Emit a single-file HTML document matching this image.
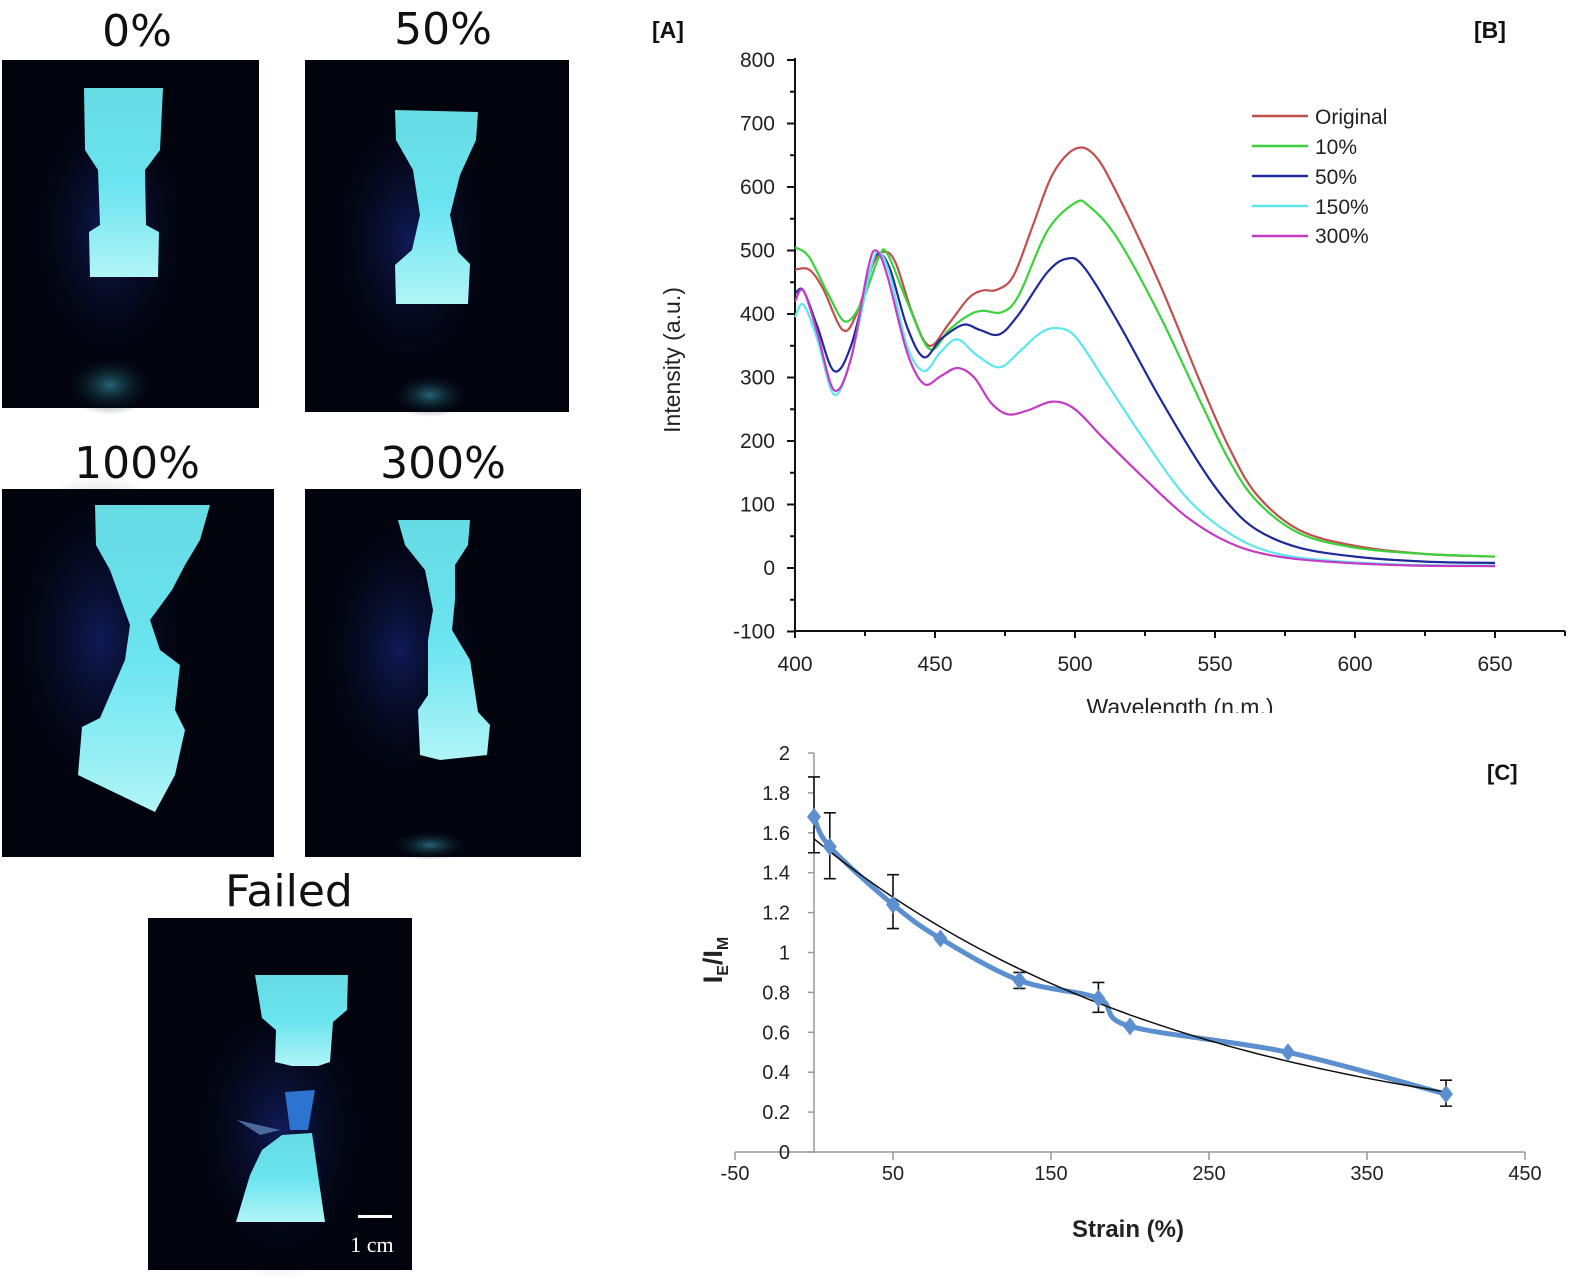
<!DOCTYPE html>
<html><head><meta charset="utf-8">
<style>
html,body{margin:0;padding:0;background:#fff;}
svg{display:block;}
</style></head>
<body>
<svg id="s" width="1575" height="1279" viewBox="0 0 1575 1279" xmlns="http://www.w3.org/2000/svg" font-family="Liberation Sans, sans-serif">
<defs>
<radialGradient id="glow" cx="0.5" cy="0.5" r="0.5">
<stop offset="0" stop-color="#1a2a8a" stop-opacity="0.6"/>
<stop offset="1" stop-color="#01030f" stop-opacity="0"/>
</radialGradient>
<linearGradient id="spec" x1="0" y1="0" x2="0" y2="1">
<stop offset="0" stop-color="#66dbe4"/>
<stop offset="0.5" stop-color="#6ae4f0"/>
<stop offset="1" stop-color="#b0f5f6"/>
</linearGradient>
<radialGradient id="bot" cx="0.5" cy="0.5" r="0.5">
<stop offset="0" stop-color="#2d7f92" stop-opacity="0.8"/>
<stop offset="1" stop-color="#01030f" stop-opacity="0"/>
</radialGradient>
</defs>

<g font-family="DejaVu Sans, Liberation Sans, sans-serif" font-size="44" fill="#111" text-anchor="middle">
<text x="137" y="46">0%</text>
<text x="443" y="44">50%</text>
<text x="137" y="478">100%</text>
<text x="443" y="478">300%</text>
<text x="289" y="906">Failed</text>
</g>

<rect x="2" y="60" width="257" height="348" fill="#02040d"/>
<ellipse cx="110" cy="230" rx="90" ry="150" fill="url(#glow)"/>
<ellipse cx="110" cy="385" rx="45" ry="30" fill="url(#bot)"/>
<path d="M84,88 L163,88 L160,150 L145,170 L146,225 L159,232 L158,277 L90,277 L89,232 L100,225 L98,170 L85,150 Z" fill="url(#spec)"/>

<rect x="305" y="60" width="264" height="352" fill="#02040d"/>
<ellipse cx="410" cy="240" rx="90" ry="150" fill="url(#glow)"/>
<ellipse cx="430" cy="395" rx="40" ry="22" fill="url(#bot)"/>
<path d="M395,110 L478,112 L476,140 L460,175 L450,215 L458,252 L470,264 L468,304 L396,304 L395,265 L412,250 L420,215 L413,170 L396,140 Z" fill="url(#spec)"/>

<rect x="2" y="489" width="272" height="368" fill="#02040d"/>
<ellipse cx="100" cy="640" rx="100" ry="170" fill="url(#glow)"/>
<path d="M95,505 L210,505 L200,540 L185,565 L172,590 L150,620 L160,650 L180,665 L175,710 L185,730 L175,775 L155,812 L78,775 L82,727 L100,718 L125,660 L130,625 L110,570 L96,545 Z" fill="url(#spec)"/>

<rect x="305" y="489" width="276" height="368" fill="#02040d"/>
<ellipse cx="400" cy="650" rx="90" ry="150" fill="url(#glow)"/>
<ellipse cx="430" cy="845" rx="40" ry="15" fill="url(#bot)"/>
<path d="M398,520 L470,520 L468,545 L455,565 L455,600 L452,630 L470,660 L478,712 L490,725 L487,755 L440,760 L420,755 L418,710 L428,695 L428,640 L433,610 L425,570 L405,545 Z" fill="url(#spec)"/>

<rect x="148" y="918" width="264" height="352" fill="#02040d"/>
<ellipse cx="280" cy="1130" rx="100" ry="150" fill="url(#glow)"/>
<path d="M255,975 L348,975 L347,1010 L333,1022 L330,1062 L318,1066 L304,1066 L292,1066 L275,1062 L276,1030 L262,1018 Z" fill="url(#spec)"/>
<path d="M285,1092 L315,1090 L308,1130 L290,1130 Z" fill="#2c74d0"/>
<path d="M237,1120 L280,1130 L260,1135 Z" fill="#4a6aa0"/>
<path d="M282,1135 L312,1133 L318,1175 L325,1222 L236,1222 L250,1175 L262,1150 Z" fill="url(#spec)"/>
<rect x="358" y="1215" width="34" height="3" fill="#fff"/>
<text x="372" y="1252" font-family="Liberation Serif, serif" font-size="22" fill="#fff" text-anchor="middle">1 cm</text>

<g font-size="23" font-weight="bold" fill="#111">
<text x="652" y="38">[A]</text>
<text x="1474" y="38">[B]</text>
</g>
<g id="bAxes" stroke="#111" stroke-width="2" fill="none">
<line x1="795" y1="58" x2="795" y2="631"/>
<line x1="795" y1="631" x2="1565" y2="631"/>
</g>
<g id="bCurves" fill="none" stroke-width="2.2"></g>
<g font-size="21" fill="#222" text-anchor="end" id="bYl"></g>
<g font-size="21" fill="#222" text-anchor="middle" id="bXl"></g>
<text transform="translate(680,360) rotate(-90)" font-size="23" fill="#222" text-anchor="middle">Intensity (a.u.)</text>
<text x="1180" y="715" font-size="23" fill="#222" text-anchor="middle">Wavelength (n.m.)</text>
<rect x="1000" y="713" width="400" height="20" fill="#fff"/>
<g id="leg" stroke-width="2.5"></g>
<g font-size="21" fill="#222">
<text x="1315" y="124">Original</text>
<text x="1315" y="154">10%</text>
<text x="1315" y="184">50%</text>
<text x="1315" y="214">150%</text>
<text x="1315" y="243">300%</text>
</g>

<text x="1487" y="780" font-size="22" font-weight="bold" fill="#111">[C]</text>
<g stroke="#999" stroke-width="1.5">
<line x1="814" y1="753" x2="814" y2="1152"/>
<line x1="735" y1="1152" x2="1525" y2="1152"/>
</g>
<g id="cT" stroke="#999" stroke-width="1.5"></g>
<g id="cYl" font-size="20" fill="#222" text-anchor="end"></g>
<g id="cXl" font-size="20" fill="#222" text-anchor="middle"></g>
<g id="cData"></g>
<text x="1128" y="1237" font-size="24" font-weight="bold" fill="#222" text-anchor="middle">Strain (%)</text>
<text transform="translate(722,960) rotate(-90)" font-size="27" font-weight="bold" fill="#222" text-anchor="middle">I<tspan font-size="16" dy="6">E</tspan><tspan dy="-6">/I</tspan><tspan font-size="16" dy="6">M</tspan></text>
</svg>
<script>
var NS="http://www.w3.org/2000/svg";
function el(p,t,a,txt){var e=document.createElementNS(NS,t);for(var k in a)e.setAttribute(k,a[k]);if(txt!==undefined)e.textContent=txt;document.getElementById(p).appendChild(e);return e;}
function cr(pts){var d="M"+pts[0][0].toFixed(1)+","+pts[0][1].toFixed(1);for(var i=0;i<pts.length-1;i++){var p0=pts[i-1]||pts[i],p1=pts[i],p2=pts[i+1],p3=pts[i+2]||p2;var c1=[p1[0]+(p2[0]-p0[0])/6,p1[1]+(p2[1]-p0[1])/6],c2=[p2[0]-(p3[0]-p1[0])/6,p2[1]-(p3[1]-p1[1])/6];d+=" C"+c1[0].toFixed(1)+","+c1[1].toFixed(1)+" "+c2[0].toFixed(1)+","+c2[1].toFixed(1)+" "+p2[0].toFixed(1)+","+p2[1].toFixed(1);}return d;}
function bx(w){return 795+(w-400)*2.8;} function by(v){return 568-v*0.635;}
for(var v=-100;v<=800;v+=50){var y=by(v);var major=v%100==0;el("bAxes","line",{x1:795-(major?8:5),y1:y,x2:795,y2:y});if(major)el("bYl","text",{x:775,y:y+7},""+v);}
for(var w=400;w<=675;w+=25){var x=bx(w);var major=w%50==0;el("bAxes","line",{x1:x,y1:631,x2:x,y2:631+(major?7:5)});if(major&&w<=650)el("bXl","text",{x:x,y:671},""+w);}
var S=[
["#c0504d",[[400,470],[405,470],[410,440],[417,375],[422,400],[428,480],[432,498],[436,480],[442,400],[448,350],[455,385],[462,425],[467,437],[472,438],[478,460],[485,540],[492,620],[500,660],[507,650],[515,590],[530,450],[545,290],[555,190],[565,115],[580,60],[600,35],[625,22],[650,18]]],
["#3ad23a",[[400,505],[405,490],[412,430],[418,388],[424,420],[430,490],[433,495],[440,420],[448,345],[455,375],[462,398],[467,405],[474,403],[480,430],[490,530],[500,575],[505,570],[515,520],[530,400],[545,260],[555,170],[565,105],[580,55],[600,32],[625,22],[650,18]]],
["#1f2a9a",[[400,432],[403,437],[408,380],[414,310],[420,350],[427,470],[430,495],[434,470],[440,380],[446,332],[452,360],[460,383],[466,375],[473,368],[480,400],[490,465],[497,487],[503,475],[515,390],[530,270],[545,160],[555,100],[565,60],[580,32],[600,18],[625,10],[650,8]]],
["#5ee6ee",[[400,395],[403,415],[408,360],[414,273],[420,330],[427,470],[430,497],[434,460],[440,350],[446,310],[452,340],[458,360],[465,335],[473,316],[480,340],[487,368],[493,378],[500,365],[510,300],[525,200],[540,110],[555,55],[570,25],[590,12],[620,5],[650,4]]],
["#c43bc4",[[400,420],[403,437],[408,370],[414,280],[420,330],[426,470],[429,500],[433,460],[440,340],[446,290],[452,302],[458,315],[464,300],[470,260],[476,242],[483,248],[492,262],[500,250],[510,205],[525,140],[540,80],[555,40],[570,20],[590,10],[620,4],[650,3]]]
];
S.forEach(function(s,i){el("bCurves","path",{d:cr(s[1].map(function(p){return [bx(p[0]),by(p[1])];})),stroke:s[0]});el("leg","line",{x1:1252,y1:116+i*30,x2:1308,y2:116+i*30,stroke:s[0]});});
function cx(s){return 814+s*1.58;} function cy(v){return 1152-v*199.5;}
for(var v=0;v<=2.001;v+=0.2){var y=cy(v);el("cT","line",{x1:808,y1:y,x2:814,y2:y});el("cYl","text",{x:790,y:y+7},(Math.round(v*10)/10).toString());}
for(var s=-50;s<=450;s+=100){var x=cx(s);el("cT","line",{x1:x,y1:1152,x2:x,y2:1160});el("cXl","text",{x:x,y:1180},""+s);}
var fit=[];for(var s=0;s<=400;s+=5)fit.push([cx(s),cy(1.57*Math.exp(-0.00413*s))]);
var D=[[0,1.68],[10,1.53],[50,1.24],[80,1.07],[130,0.86],[180,0.77],[200,0.63],[300,0.50],[400,0.29]];
el("cData","path",{d:cr(D.map(function(p){return [cx(p[0]),cy(p[1])];})),stroke:"#5b8fd0","stroke-width":5,fill:"none"});
el("cData","path",{d:"M"+fit.map(function(p){return p[0].toFixed(1)+","+p[1].toFixed(1);}).join(" L"),stroke:"#111","stroke-width":1.5,fill:"none"});
var E=[[0,1.50,1.88],[10,1.37,1.70],[50,1.12,1.39],[130,0.82,0.90],[180,0.70,0.85],[400,0.23,0.36]];
E.forEach(function(e){var x=cx(e[0]);el("cData","path",{d:"M"+x+","+cy(e[1])+" L"+x+","+cy(e[2])+" M"+(x-6)+","+cy(e[1])+" L"+(x+6)+","+cy(e[1])+" M"+(x-6)+","+cy(e[2])+" L"+(x+6)+","+cy(e[2]),stroke:"#111","stroke-width":1.6,fill:"none"});});
D.forEach(function(p){var x=cx(p[0]),y=cy(p[1]);el("cData","path",{d:"M"+x+","+(y-9)+" L"+(x+7)+","+y+" L"+x+","+(y+9)+" L"+(x-7)+","+y+" Z",fill:"#5b8fd0"});});
</script>
</body></html>
